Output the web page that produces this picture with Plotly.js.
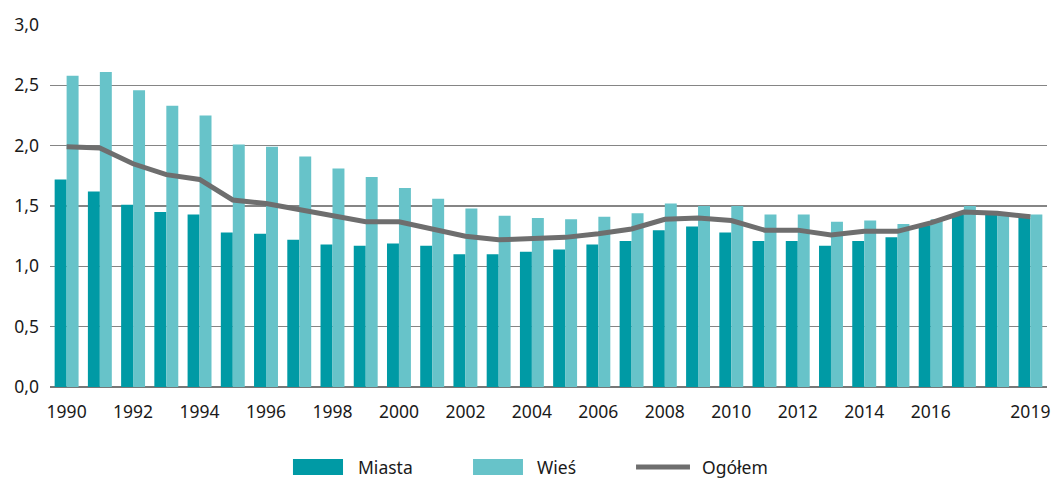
<!DOCTYPE html>
<html>
<head>
<meta charset="utf-8">
<script src="https://cdn.plot.ly/plotly-3.0.1.min.js"></script>
<style>html,body{margin:0;padding:0;background:#fff;}#chart{width:1053px;height:479px;}</style>
</head>
<body>
<div id="chart"></div>
<script>
const years = [1990,1991,1992,1993,1994,1995,1996,1997,1998,1999,2000,2001,2002,2003,2004,2005,2006,2007,2008,2009,2010,2011,2012,2013,2014,2015,2016,2017,2018,2019];
const miasta = [1.72,1.62,1.51,1.45,1.43,1.28,1.27,1.22,1.18,1.17,1.19,1.17,1.10,1.10,1.12,1.14,1.18,1.21,1.30,1.33,1.28,1.21,1.21,1.17,1.21,1.24,1.34,1.43,1.44,1.40];
const wies = [2.58,2.61,2.46,2.33,2.25,2.01,1.99,1.91,1.81,1.74,1.65,1.56,1.48,1.42,1.40,1.39,1.41,1.44,1.52,1.50,1.50,1.43,1.43,1.37,1.38,1.35,1.39,1.50,1.45,1.43];
const ogolem = [1.99,1.98,1.85,1.76,1.72,1.55,1.52,1.47,1.41,1.37,1.37,1.31,1.25,1.22,1.23,1.24,1.27,1.31,1.39,1.40,1.38,1.30,1.30,1.26,1.29,1.29,1.36,1.45,1.44,1.41];
const tickYears = [1990,1992,1994,1996,1998,2000,2002,2004,2006,2008,2010,2012,2014,2016,2019];
const tickLabels = tickYears.map(String);
const seriesNames = ['Miasta','Wieś','Ogółem'];

const cDark = '#009aa5', cLight = '#67c3c9', cLine = '#6e6e6e';
const font = {family: '"Noto Sans", "Open Sans", sans-serif', size: 17, color: '#1a1a1a'};

const traces = [
  {type:'bar', x: years, y: miasta, name: seriesNames[0], marker:{color:cDark}, showlegend:false},
  {type:'bar', x: years, y: wies, name: seriesNames[1], marker:{color:cLight}, showlegend:false},
  {type:'scatter', mode:'lines', x: years, y: ogolem, name: seriesNames[2], line:{color:cLine, width:5}, showlegend:false}
];

const ly = -0.221;
const layout = {
  width:1053, height:479,
  margin:{l:50, r:6, t:25, b:92},
  paper_bgcolor:'#fff', plot_bgcolor:'#fff',
  font: font,
  separators: ',.',
  barmode:'group', bargap:0.28, bargroupgap:0,
  showlegend:false,
  xaxis:{
    range:[1989.5, 2019.5],
    tickmode:'array', tickvals: tickYears, ticktext: tickLabels,
    showgrid:false, zeroline:false, showline:false,
    ticks:'', ticklabelstandoff:12,
    tickfont:{size:17.5, color:'#1a1a1a'}
  },
  yaxis:{
    range:[0,3.0], dtick:0.5, tickformat:'.1f',
    showgrid:true, gridcolor:'#858585', gridwidth:1.3,
    zeroline:true, zerolinecolor:'#777', zerolinewidth:1.6,
    showline:false, ticks:'', ticklabelstandoff:10,
    tickfont:{size:17.5, color:'#1a1a1a'}
  },
  shapes:[
    {type:'rect', xref:'paper', yref:'paper', x0:0.2437, x1:0.2939, y0:ly-0.022, y1:ly+0.022, fillcolor:cDark, line:{width:0}},
    {type:'rect', xref:'paper', yref:'paper', x0:0.4243, x1:0.4744, y0:ly-0.022, y1:ly+0.022, fillcolor:cLight, line:{width:0}},
    {type:'line', xref:'paper', yref:'paper', x0:0.5878, x1:0.6419, y0:ly, y1:ly, line:{color:cLine, width:5}}
  ],
  annotations:[
    {xref:'paper', yref:'paper', x:0.3069, y:ly, text:seriesNames[0], showarrow:false, xanchor:'left', yanchor:'middle', font:{size:17.5, color:'#1a1a1a'}},
    {xref:'paper', yref:'paper', x:0.4865, y:ly, text:seriesNames[1], showarrow:false, xanchor:'left', yanchor:'middle', font:{size:17.5, color:'#1a1a1a'}},
    {xref:'paper', yref:'paper', x:0.652, y:ly, text:seriesNames[2], showarrow:false, xanchor:'left', yanchor:'middle', font:{size:17.5, color:'#1a1a1a'}}
  ]
};

Plotly.newPlot('chart', traces, layout, {staticPlot:true, displayModeBar:false});
</script>
</body>
</html>
